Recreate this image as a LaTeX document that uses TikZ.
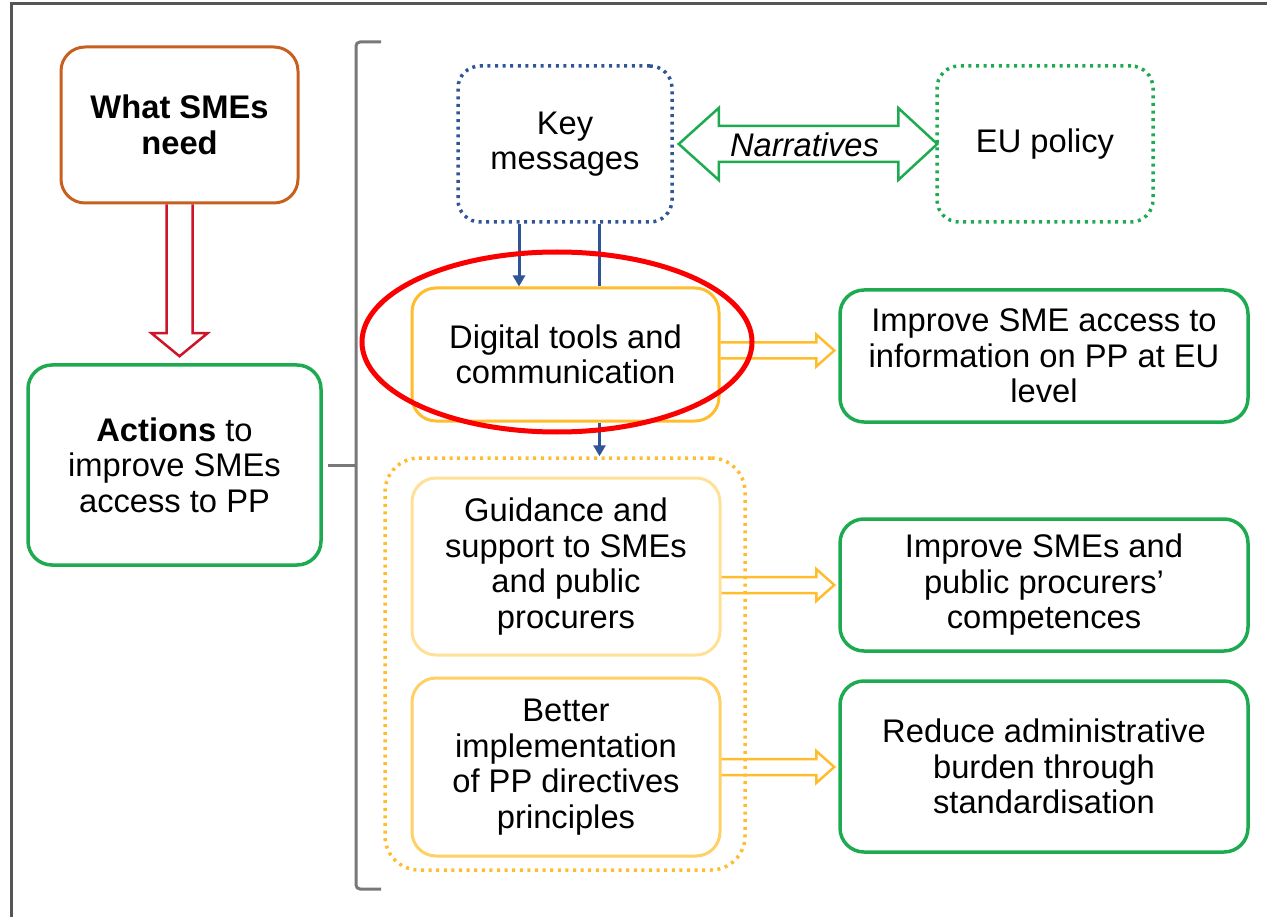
\documentclass[tikz,border=0pt]{standalone}
\usepackage{fontspec}
\setmainfont{Liberation Sans}
\usetikzlibrary{calc,arrows.meta}
\definecolor{framegray}{RGB}{85,85,85}
\definecolor{orangebox}{RGB}{200,95,30}
\definecolor{redarr}{RGB}{205,20,40}
\definecolor{greenbox}{RGB}{30,170,80}
\definecolor{bluebox}{RGB}{47,85,151}
\definecolor{goldline}{RGB}{255,188,45}
\definecolor{goldmid}{RGB}{255,208,100}
\definecolor{goldpale}{RGB}{255,224,150}
\definecolor{bracketgray}{RGB}{120,120,120}
\definecolor{ellred}{RGB}{250,0,0}
\newcommand\myHArrow[3]{%
  \draw[#1, line width=2.5pt, line join=miter]
    ($(#2)+(0,-8)$) -- ($(#3)+(-22,-8)$) -- ($(#3)+(-22,-16)$) -- ($(#3)+(-4,0)$)
    -- ($(#3)+(-22,16)$) -- ($(#3)+(-22,8)$) -- ($(#2)+(0,8)$);}
\begin{document}
\begin{tikzpicture}[x=1pt,y=-1pt,
  txt/.style={font=\fontsize{32.7}{35.5}\selectfont, align=center, text=black},
  box/.style={txt, draw, rounded corners=24pt, line width=3pt, inner sep=0pt},
  dotbox/.style={box, line width=3.5pt, dash pattern=on 3pt off 4.6pt},
  bluearr/.style={draw=bluebox, line width=3pt},
]
\useasboundingbox (0,0) rectangle (1267,917);
\draw[framegray, line width=3pt] (1267,4) -- (11,4) -- (11,917);

% left column
\node[box, draw=orangebox, minimum width=237pt, minimum height=156pt] (need) at (179.5,125)
  {\textbf{What SMEs}\\\textbf{need}};
\node[box, draw=greenbox, line width=3.5pt, minimum width=293pt, minimum height=200pt] (act) at (174.5,465)
  {\textbf{Actions} to\\improve SMEs\\access to PP};

% red hollow arrow
\coordinate (ra) at (act.north -| need.south);
\draw[redarr, line width=2.5pt, line join=miter]
  ($(need.south)+(-13,0)$) -- ($(ra)+(-13,-30)$) -- ($(ra)+(-28,-30)$) -- ($(ra)+(0,-7)$)
  -- ($(ra)+(28,-30)$) -- ($(ra)+(13,-30)$) -- ($(need.south)+(13,0)$);

% bracket
\draw[bracketgray, line width=3pt, rounded corners=4pt] (381,42) -- (356,42) -- (356,889) -- (381,889);
\draw[bracketgray, line width=3pt] ($(act.east)+(5,0)$) -- (356,465);

% top row
\node[dotbox, draw=bluebox, rounded corners=22pt, minimum width=214pt, minimum height=156pt] (km) at (565,144)
  {Key\\messages};
\node[dotbox, draw=greenbox, rounded corners=22pt, minimum width=216pt, minimum height=156pt] (eu) at (1045,144)
  {EU policy};

% narratives double arrow
\coordinate (nl) at (km.east);
\coordinate (nr) at (eu.west);
\draw[greenbox, line width=2.5pt, line join=miter, fill=white]
  ($(nl)+(5,0)$) -- ($(nl)+(45,-36)$) -- ($(nl)+(45,-18)$) -- ($(nr)+(-37,-18)$) -- ($(nr)+(-37,-36)$)
  -- ($(nr)+(2,0)$) -- ($(nr)+(-37,36)$) -- ($(nr)+(-37,18)$) -- ($(nl)+(45,18)$) -- ($(nl)+(45,36)$) -- cycle;
\node[txt, font=\fontsize{32.7}{35.5}\selectfont\itshape] (narr) at ($(km.east)!0.5!(eu.west)+(0,1)$) {Narratives};

% action boxes
\node[box, draw=goldline, minimum width=307pt, minimum height=133pt] (dt) at (565.5,354.5)
  {Digital tools and\\communication};
\node[dotbox, draw=goldline, rounded corners=34pt, minimum width=360pt, minimum height=412pt] (grp) at (565,664) {};
\node[box, draw=goldpale, minimum width=308pt, minimum height=177pt] (gd) at (566,566.5)
  {Guidance and\\support to SMEs\\and public\\procurers};
\node[box, draw=goldmid, minimum width=308pt, minimum height=178pt] (bi) at (566,767)
  {Better\\implementation\\of PP directives\\principles};

% outcome boxes
\node[box, draw=greenbox, line width=3.5pt, minimum width=408pt, minimum height=132pt] (o1) at (1044,356)
  {Improve SME access to\\information on PP at EU\\level};
\node[box, draw=greenbox, line width=3.5pt, minimum width=408pt, minimum height=132pt] (o2) at (1044,585)
  {Improve SMEs and\\public procurers’\\competences};
\node[box, draw=greenbox, line width=3.5pt, minimum width=408pt, minimum height=171pt] (o3) at (1044,766.5)
  {Reduce administrative\\burden through\\standardisation};

% blue connectors
\draw[bluearr, -{Triangle[length=11pt,width=12pt]}] ([xshift=-46pt]km.south) -- ([xshift=-46pt]km.south |- dt.north);
\draw[bluearr] ([xshift=34pt]km.south) -- ([xshift=34pt]km.south |- dt.north);
\draw[bluearr, -{Triangle[length=11pt,width=12pt]}] ([xshift=34pt]dt.south) -- ([xshift=34pt]dt.south |- grp.north);

% hollow yellow arrows
\coordinate (a1s) at ($(dt.east)+(0,-4)$);
\coordinate (a1t) at (a1s -| o1.west);
\myHArrow{goldline}{a1s}{a1t}
\coordinate (a2s) at (gd.east |- o2.west);
\coordinate (a2t) at (o2.west);
\myHArrow{goldline}{a2s}{a2t}
\coordinate (a3s) at (bi.east);
\coordinate (a3t) at (bi.east -| o3.west);
\myHArrow{goldline}{a3s}{a3t}

% red highlight ellipse
\draw[ellred, line width=5pt] (557,342) ellipse [x radius=195pt, y radius=90pt];
\end{tikzpicture}
\end{document}
